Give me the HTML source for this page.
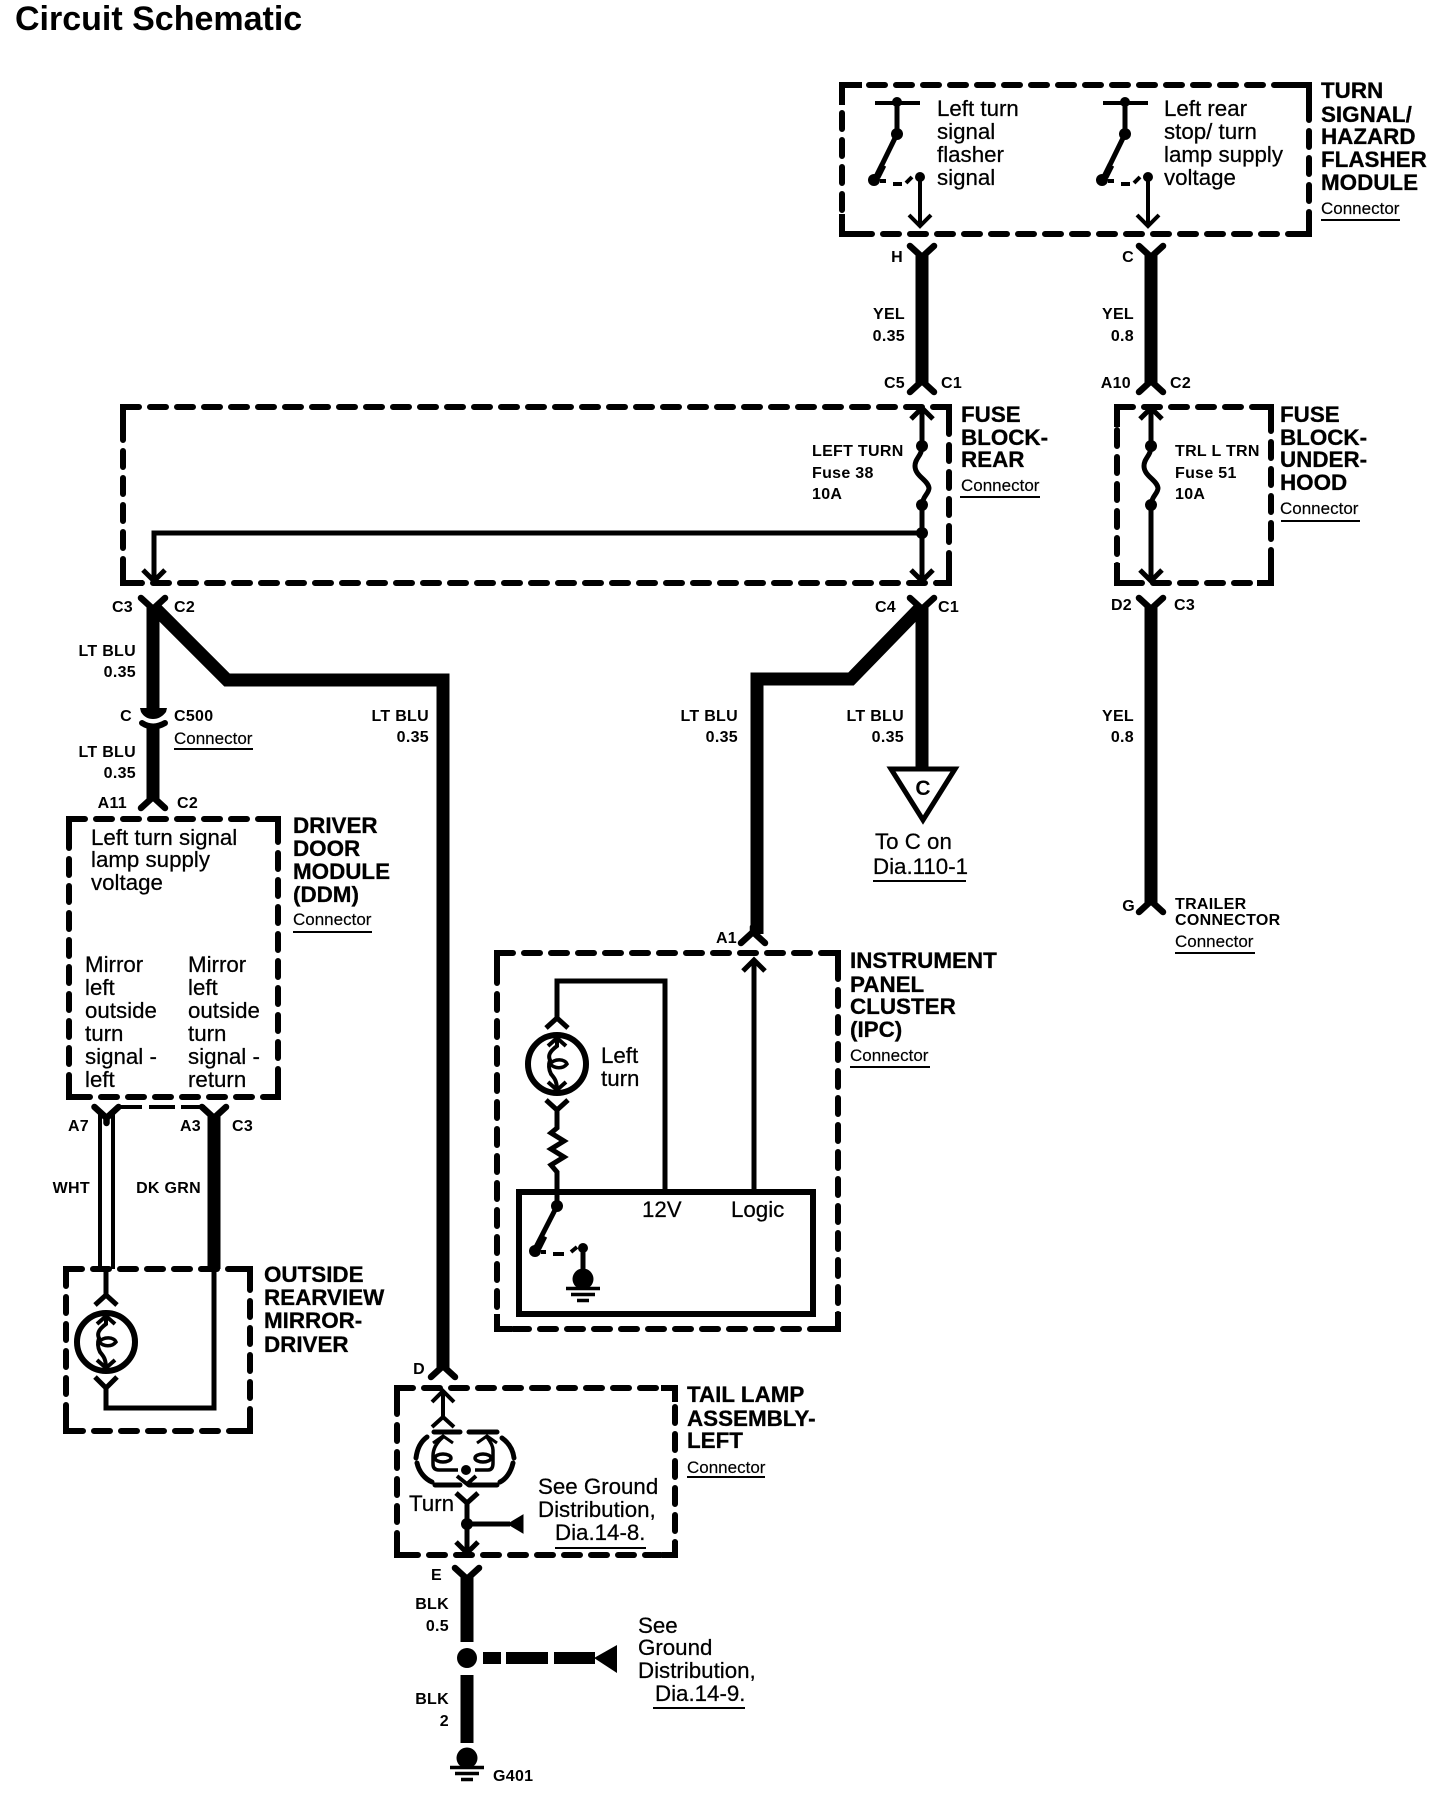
<!DOCTYPE html>
<html>
<head>
<meta charset="utf-8">
<title>Circuit Schematic</title>
<style>
html,body{margin:0;padding:0;background:#fff;width:1456px;height:1800px;overflow:hidden}
svg{display:block}
text{font-family:"Liberation Sans",Arial,sans-serif;fill:#000}
.r{font-size:22.3px;stroke:#000;stroke-width:.25}
.b{font-size:22.4px;font-weight:700;stroke:#000;stroke-width:.3}
.s{font-size:16px;font-weight:700;letter-spacing:.3px}
.c{font-size:17px;stroke:#000;stroke-width:.15}
.e{text-anchor:end}
.d{fill:none;stroke:#000;stroke-width:6;stroke-dasharray:16 11;stroke-linecap:round}
.k{fill:none;stroke:#000;stroke-width:6;stroke-linecap:butt}
.w{fill:none;stroke:#000;stroke-width:13;stroke-linejoin:miter}
.t{fill:none;stroke:#000;stroke-width:5;stroke-linejoin:miter}
.u{fill:none;stroke:#000;stroke-width:2}
</style>
</head>
<body>
<svg width="1456" height="1800" viewBox="0 0 1456 1800" xmlns="http://www.w3.org/2000/svg">
<defs>
<path id="fu" d="M-12 -6L0 5L12 -6M0 5V10" fill="none" stroke="#000" stroke-width="6.5" stroke-linecap="round"/>
<path id="fd" d="M-12 6L0 -5L12 6M0 -5V-10" fill="none" stroke="#000" stroke-width="6.5" stroke-linecap="round"/>
<path id="au" d="M-11 11L0 0L11 11" fill="none" stroke="#000" stroke-width="5"/>
<path id="ad" d="M-11 -11L0 0L11 -11" fill="none" stroke="#000" stroke-width="5"/>
<g id="sw">
<path d="M-22 0H23" fill="none" stroke="#000" stroke-width="4"/>
<circle cx="0" cy="-1" r="5"/>
<path d="M0 0V31L-22 76" fill="none" stroke="#000" stroke-width="5"/>
<circle cx="0" cy="31" r="6"/>
<circle cx="-23" cy="77" r="6"/>
<path d="M-20 74L-14 62" fill="none" stroke="#000" stroke-width="7"/>
<path d="M-17 78H-11M-4 81H5M9 80L15 74" fill="none" stroke="#000" stroke-width="4"/>
<circle cx="23" cy="74" r="5"/>
<path d="M23 74V122M12 112L23 123L34 112" fill="none" stroke="#000" stroke-width="4"/>
</g>
<g id="bulb">
<circle r="29" fill="none" stroke="#000" stroke-width="6"/>
<path d="M0 -27V-18C-8 -12 -9 -8 -7 -4C-9 2 -8 6 -6 10C-3 14 0 16 0 27" fill="none" stroke="#000" stroke-width="4"/>
<path d="M-9 -18L0 -26L9 -18M-9 18L0 26L9 18" fill="none" stroke="#000" stroke-width="4"/>
<path d="M-7 0C-2 -6 8 -5 10 0C6 5 -2 5 -7 0Z" fill="none" stroke="#000" stroke-width="3.5"/>
</g>
<g id="gnd">
<circle cx="0" cy="-2" r="10.500"/>
<path d="M-17 7.500H17M-12 13.500H12M-6 19.500H6" fill="none" stroke="#000" stroke-width="3.500"/>
</g>
</defs>

<text x="15" y="30" style="font-size:34px;font-weight:700">Circuit Schematic</text>

<!-- TURN SIGNAL box -->
<path class="d" d="M842 85H1309V234H842Z"/>
<path class="k" d="M842 105V85H862M1290 85H1309V105M1309 214V234H1290M862 234H842V214"/>
<use href="#sw" x="897" y="103"/>
<use href="#sw" x="1125" y="103"/>
<text class="r" x="937" y="116">Left turn</text>
<text class="r" x="937" y="139">signal</text>
<text class="r" x="937" y="162">flasher</text>
<text class="r" x="937" y="185">signal</text>
<text class="r" x="1164" y="116">Left rear</text>
<text class="r" x="1164" y="139">stop/ turn</text>
<text class="r" x="1164" y="162">lamp supply</text>
<text class="r" x="1164" y="185">voltage</text>
<text class="b" x="1321" y="98">TURN</text>
<text class="b" x="1321" y="122">SIGNAL/</text>
<text class="b" x="1321" y="144">HAZARD</text>
<text class="b" x="1321" y="167">FLASHER</text>
<text class="b" x="1321" y="190">MODULE</text>
<text class="c" x="1321" y="214">Connector</text>
<path class="u" d="M1321 220H1400"/>

<!-- top wires -->
<path class="w" d="M922 254V384M1151 254V384"/>
<use href="#fu" x="922" y="252"/><use href="#fu" x="1151" y="252"/>
<use href="#fd" x="922" y="386"/><use href="#fd" x="1151" y="386"/>
<text class="s e" x="903" y="262">H</text>
<text class="s e" x="1134" y="262">C</text>
<text class="s e" x="905" y="319">YEL</text>
<text class="s e" x="905" y="341">0.35</text>
<text class="s e" x="1134" y="319">YEL</text>
<text class="s e" x="1134" y="341">0.8</text>
<text class="s e" x="905" y="388">C5</text>
<text class="s" x="941" y="388">C1</text>
<text class="s e" x="1131" y="388">A10</text>
<text class="s" x="1170" y="388">C2</text>

<!-- FUSE BLOCK REAR -->
<path class="d" d="M123 407H949V583H123Z"/>
<path class="k" d="M123 427V407H137M935 407H949V422M949 563V583H935M143 583H123V566"/>
<path class="t" d="M922 408V446C922 456 915 458 915 466C915 476 928 480 929 488C929 494 922 496 922 507V580"/>
<use href="#au" x="922" y="408"/><use href="#ad" x="922" y="581"/>
<circle cx="922" cy="446" r="6"/><circle cx="922" cy="505" r="6"/><circle cx="922" cy="533" r="6"/>
<path class="t" d="M922 533H154V581"/>
<use href="#ad" x="154" y="581"/>
<text class="s" x="812" y="456">LEFT TURN</text>
<text class="s" x="812" y="478">Fuse 38</text>
<text class="s" x="812" y="499">10A</text>
<text class="b" x="961" y="422">FUSE</text>
<text class="b" x="961" y="445">BLOCK-</text>
<text class="b" x="961" y="467">REAR</text>
<text class="c" x="961" y="491">Connector</text>
<path class="u" d="M960 497H1040"/>

<!-- FUSE UNDERHOOD -->
<path class="d" d="M1117 407H1271V583H1117Z"/>
<path class="k" d="M1117 427V407H1132M1257 407H1271V422M1271 563V583H1257M1137 583H1117V563"/>
<path class="t" d="M1151 408V446C1151 456 1144 458 1144 466C1144 476 1157 480 1158 488C1158 494 1151 496 1151 507V580"/>
<use href="#au" x="1151" y="408"/><use href="#ad" x="1151" y="581"/>
<circle cx="1151" cy="446" r="6"/><circle cx="1151" cy="505" r="6"/>
<text class="s" x="1175" y="456">TRL L TRN</text>
<text class="s" x="1175" y="478">Fuse 51</text>
<text class="s" x="1175" y="499">10A</text>
<text class="b" x="1280" y="422">FUSE</text>
<text class="b" x="1280" y="445">BLOCK-</text>
<text class="b" x="1280" y="467">UNDER-</text>
<text class="b" x="1280" y="490">HOOD</text>
<text class="c" x="1280" y="514">Connector</text>
<path class="u" d="M1281 521H1360"/>

<!-- wires under fuse rear left -->
<path class="w" d="M153 606V712M153 728V800"/>
<use href="#fu" x="153" y="604"/>
<path d="M140 708H167L166 712C162 717 158 719 153 719C148 719 144 717 141 712Z"/>
<path d="M142 723Q153 730 165 723" fill="none" stroke="#000" stroke-width="6" stroke-linecap="round"/>
<use href="#fd" x="153" y="802"/>
<path class="w" d="M153 606L227 680H443V1368"/>
<use href="#fd" x="443" y="1371"/>
<text class="s e" x="133" y="612">C3</text>
<text class="s" x="174" y="612">C2</text>
<text class="s e" x="136" y="656">LT BLU</text>
<text class="s e" x="136" y="677">0.35</text>
<text class="s e" x="132" y="721">C</text>
<text class="s" x="174" y="721">C500</text>
<text class="c" x="174" y="744">Connector</text>
<path class="u" d="M174 749H253"/>
<text class="s e" x="136" y="757">LT BLU</text>
<text class="s e" x="136" y="778">0.35</text>
<text class="s e" x="127" y="808">A11</text>
<text class="s" x="177" y="808">C2</text>
<text class="s e" x="429" y="721">LT BLU</text>
<text class="s e" x="429" y="742">0.35</text>

<!-- DDM -->
<path class="d" d="M69 819H278V1097H69Z"/>
<path class="k" d="M69 838V819H82M263 819H278V834M278 1080V1097H264M84 1097H69V1080"/>
<text class="r" x="91" y="845">Left turn signal</text>
<text class="r" x="91" y="867">lamp supply</text>
<text class="r" x="91" y="890">voltage</text>
<text class="r" x="85" y="972">Mirror</text>
<text class="r" x="85" y="995">left</text>
<text class="r" x="85" y="1018">outside</text>
<text class="r" x="85" y="1041">turn</text>
<text class="r" x="85" y="1064">signal -</text>
<text class="r" x="85" y="1087">left</text>
<text class="r" x="188" y="972">Mirror</text>
<text class="r" x="188" y="995">left</text>
<text class="r" x="188" y="1018">outside</text>
<text class="r" x="188" y="1041">turn</text>
<text class="r" x="188" y="1064">signal -</text>
<text class="r" x="188" y="1087">return</text>
<text class="b" x="293" y="833">DRIVER</text>
<text class="b" x="293" y="856">DOOR</text>
<text class="b" x="293" y="879">MODULE</text>
<text class="b" x="293" y="902">(DDM)</text>
<text class="c" x="293" y="925">Connector</text>
<path class="u" d="M293 932H372"/>

<!-- Mirror wires -->
<path d="M100 1112V1269M113 1112V1269" fill="none" stroke="#000" stroke-width="4"/>
<use href="#fu" x="106.500" y="1113"/>
<path d="M120 1107H142M149 1107H175M181 1107H205" fill="none" stroke="#000" stroke-width="4"/>
<path class="w" d="M214 1116V1269"/>
<use href="#fu" x="214" y="1113"/>
<text class="s e" x="89" y="1131">A7</text>
<text class="s e" x="201" y="1131">A3</text>
<text class="s" x="232" y="1131">C3</text>
<text class="s e" x="90" y="1193">WHT</text>
<text class="s e" x="201" y="1193">DK GRN</text>

<!-- Mirror box -->
<path class="d" d="M66 1269H250V1431H66Z"/>
<path class="k" d="M66 1286V1269H79M238 1269H250V1282M250 1416V1431H237M80 1431H66V1416"/>
<path class="t" d="M106 1270V1295M95 1305L106 1295L117 1305"/>
<use href="#bulb" x="106" y="1342"/>
<path class="t" d="M214 1272V1408H106V1388M95 1377L106 1388L117 1377"/>
<text class="b" x="264" y="1282">OUTSIDE</text>
<text class="b" x="264" y="1305">REARVIEW</text>
<text class="b" x="264" y="1328">MIRROR-</text>
<text class="b" x="264" y="1352">DRIVER</text>

<!-- Right group wires -->
<path class="w" d="M922 606L851 679H757V934"/>
<path class="w" d="M922 606V768"/>
<use href="#fu" x="922" y="604"/>
<use href="#fd" x="753" y="937"/>
<path d="M891 769H955L923 820Z" fill="#fff" stroke="#000" stroke-width="5"/>
<text x="923" y="795" text-anchor="middle" style="font-size:21px;font-weight:700">C</text>
<text class="s e" x="896" y="612">C4</text>
<text class="s" x="938" y="612">C1</text>
<text class="s e" x="738" y="721">LT BLU</text>
<text class="s e" x="738" y="742">0.35</text>
<text class="s e" x="904" y="721">LT BLU</text>
<text class="s e" x="904" y="742">0.35</text>
<text class="r" x="875" y="849">To C on</text>
<text class="r" x="873" y="874">Dia.110-1</text>
<path class="u" d="M873 881H966"/>

<!-- Underhood wire -->
<path class="w" d="M1151 606V903"/>
<use href="#fu" x="1151" y="604"/>
<use href="#fd" x="1151" y="906"/>
<text class="s e" x="1132" y="610">D2</text>
<text class="s" x="1174" y="610">C3</text>
<text class="s e" x="1134" y="721">YEL</text>
<text class="s e" x="1134" y="742">0.8</text>
<text class="s e" x="1135" y="911">G</text>
<text class="s" x="1175" y="909">TRAILER</text>
<text class="s" x="1175" y="925">CONNECTOR</text>
<text class="c" x="1175" y="947">Connector</text>
<path class="u" d="M1175 953H1255"/>

<!-- IPC -->
<path class="d" d="M497 953H838V1329H497Z"/>
<path class="k" d="M497 972V953H510M824 953H838V968M838 1312V1329H824M512 1329H497V1314"/>
<path class="t" d="M754 1192V960"/>
<use href="#au" x="754" y="960"/>
<path class="t" d="M665 1192V981H557V1018M546 1028L557 1018L568 1028"/>
<use href="#bulb" x="557" y="1064"/>
<path class="t" d="M546 1100L557 1110L568 1100M557 1110V1128L551 1133L564 1141L551 1149L564 1157L551 1165L557 1172V1206"/>
<path d="M519 1192H813V1314H519Z" fill="none" stroke="#000" stroke-width="6"/>
<circle cx="557" cy="1206" r="6"/>
<path class="t" d="M557 1206L535 1249"/>
<circle cx="535" cy="1251" r="6"/>
<path d="M538 1248L544 1236" stroke="#000" stroke-width="7"/>
<path d="M541 1252H546M553 1254H564M571 1252L577 1247" fill="none" stroke="#000" stroke-width="4"/>
<circle cx="583" cy="1248" r="5"/>
<path class="t" d="M583 1248V1275"/>
<use href="#gnd" x="583" y="1281"/>
<text class="r" x="642" y="1217">12V</text>
<text class="r" x="731" y="1217">Logic</text>
<text class="r" x="601" y="1063">Left</text>
<text class="r" x="601" y="1086">turn</text>
<text class="s e" x="737" y="943">A1</text>
<text class="b" x="850" y="968">INSTRUMENT</text>
<text class="b" x="850" y="992">PANEL</text>
<text class="b" x="850" y="1014">CLUSTER</text>
<text class="b" x="850" y="1037">(IPC)</text>
<text class="c" x="850" y="1061">Connector</text>
<path class="u" d="M850 1067H930"/>

<!-- Tail lamp -->
<path class="d" d="M397 1388H675V1555H397Z"/>
<path class="k" d="M397 1405V1388H410M661 1388H675V1402M675 1541V1555H662M412 1555H397V1540"/>
<text class="s e" x="425" y="1374">D</text>
<path d="M443 1390V1417M432 1402L443 1391L454 1402M432 1427L443 1417L454 1427" fill="none" stroke="#000" stroke-width="4"/>
<!-- dual filament lamp -->
<path d="M434 1432H460M469 1432H497M427 1437C420 1442 417 1450 416 1458M417 1463C419 1472 425 1479 432 1482M502 1438C509 1443 513 1450 514 1458M513 1463C511 1472 506 1479 500 1482M435 1485H460M469 1485H497" fill="none" stroke="#000" stroke-width="5" stroke-linecap="round"/>
<path d="M443 1437C436 1443 433 1449 433 1456V1464C433 1468 435 1470 439 1470H458M475 1470H488C491 1470 493 1468 493 1463V1450C493 1446 490 1441 487 1437" fill="none" stroke="#000" stroke-width="3.500"/>
<path d="M433 1443L443 1436L453 1443M477 1443L487 1436L497 1443" fill="none" stroke="#000" stroke-width="3"/>
<ellipse cx="443" cy="1458" rx="8" ry="4" fill="none" stroke="#000" stroke-width="3.500"/>
<ellipse cx="483" cy="1458" rx="8" ry="4" fill="none" stroke="#000" stroke-width="3.500"/>
<circle cx="466" cy="1470" r="5"/>
<path d="M457 1476L467 1484L476 1476" fill="none" stroke="#000" stroke-width="4"/>
<path d="M456 1493L467 1503L478 1493" fill="none" stroke="#000" stroke-width="5"/>
<path class="t" d="M467 1503V1551M467 1524H510"/>
<circle cx="467" cy="1524" r="6"/>
<path d="M508 1524L523 1515V1533Z" stroke="#000" stroke-width="1"/>
<use href="#ad" x="467" y="1553"/>
<text class="r" x="409" y="1511">Turn</text>
<text class="r" x="538" y="1494">See Ground</text>
<text class="r" x="538" y="1517">Distribution,</text>
<text class="r" x="555" y="1540">Dia.14-8.</text>
<path class="u" d="M555 1548H646"/>
<text class="b" x="687" y="1402">TAIL LAMP</text>
<text class="b" x="687" y="1426">ASSEMBLY-</text>
<text class="b" x="687" y="1448">LEFT</text>
<text class="c" x="687" y="1473">Connector</text>
<path class="u" d="M687 1477H765"/>

<!-- bottom wires -->
<path class="w" d="M467 1576V1642M467 1675V1743"/>
<use href="#fu" x="467" y="1574"/>
<circle cx="467" cy="1658" r="10"/>
<path d="M483 1652H501V1664H483ZM506 1652H548V1664H506ZM554 1652H595V1664H554Z"/>
<path d="M594 1658L617 1645V1673Z"/>
<use href="#gnd" x="467" y="1760"/>
<text class="s e" x="442" y="1580">E</text>
<text class="s e" x="449" y="1609">BLK</text>
<text class="s e" x="449" y="1631">0.5</text>
<text class="s e" x="449" y="1704">BLK</text>
<text class="s e" x="449" y="1726">2</text>
<text class="s" x="493" y="1781">G401</text>
<text class="r" x="638" y="1633">See</text>
<text class="r" x="638" y="1655">Ground</text>
<text class="r" x="638" y="1678">Distribution,</text>
<text class="r" x="655" y="1701">Dia.14-9.</text>
<path class="u" d="M653 1708H745"/>
</svg>
</body>
</html>
